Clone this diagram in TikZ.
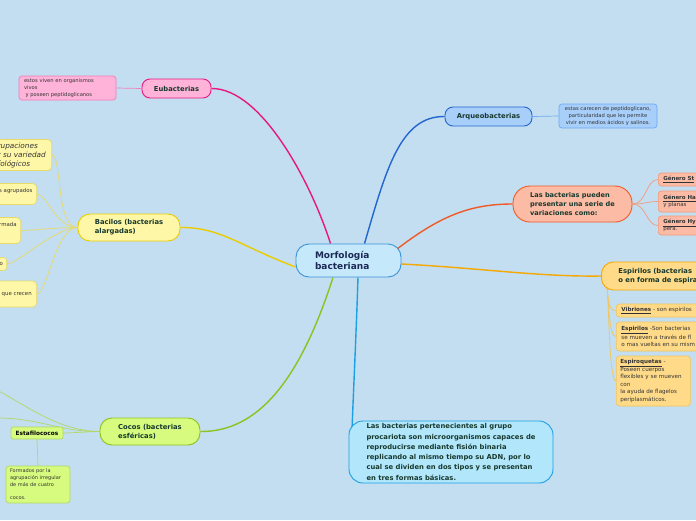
\documentclass[tikz,border=0pt]{standalone}
\usepackage{fontspec}
\setmainfont{DejaVu Sans}
\definecolor{bgc}{HTML}{C2DEF0}
\definecolor{txt}{HTML}{17392D}
\definecolor{navy}{HTML}{1B2A55}
\definecolor{notetxt}{HTML}{333333}
\definecolor{cfill}{HTML}{C6E8FB}
\definecolor{cdraw}{HTML}{3C92D6}
\definecolor{pinkfill}{HTML}{FFB3D9}
\definecolor{pinkdraw}{HTML}{E81880}
\definecolor{pinklight}{HTML}{F27FBE}
\definecolor{arqfill}{HTML}{A8CFFA}
\definecolor{arqdraw}{HTML}{2466D0}
\definecolor{arqlight}{HTML}{6FAAF2}
\definecolor{varfill}{HTML}{FBBBA5}
\definecolor{vardraw}{HTML}{F05A28}
\definecolor{varlight}{HTML}{F59A7A}
\definecolor{espfill}{HTML}{FFDA88}
\definecolor{espdraw}{HTML}{F5A800}
\definecolor{esplight}{HTML}{F2C65A}
\definecolor{bacfill}{HTML}{FFF7A8}
\definecolor{bacdraw}{HTML}{EBCC00}
\definecolor{baclight}{HTML}{E8DA6A}
\definecolor{cocfill}{HTML}{D6FB7E}
\definecolor{cocdraw}{HTML}{8DC21F}
\definecolor{coclight}{HTML}{B2D863}
\definecolor{descfill}{HTML}{B2E6FB}
\definecolor{descdraw}{HTML}{1BA0E2}
\pgfdeclarelayer{bglayer}
\pgfdeclarelayer{lines}
\pgfsetlayers{bglayer,lines,main}
\tikzset{
  bub/.style={draw, line width=0.9pt, rounded corners=10pt, inner sep=0pt, align=left, text=txt},
  sub/.style={draw, line width=0.7pt, rounded corners=3pt, inner sep=0pt, align=left, text=notetxt},
  mainf/.style={font=\fontsize{6.8}{8.8}\selectfont\bfseries},
  notef/.style={font=\fontsize{5.2}{6.8}\selectfont},
  link/.style={line width=1.4pt},
  sublink/.style={line width=0.7pt},
}
\begin{document}
\begin{tikzpicture}[x=1pt,y=-1pt]
\useasboundingbox (0,0) rectangle (696,520);
\begin{pgfonlayer}{bglayer}
\fill[bgc] (0,0) rectangle (696,520);
\end{pgfonlayer}

% central node
\node[bub, fill=cfill, draw=cdraw, rounded corners=13pt, minimum width=105pt, minimum height=33pt, text width=67pt, font=\fontsize{9}{11}\selectfont\bfseries, text=navy] (c) at (348.5,260.5) {Morfología\\bacteriana};

% Eubacterias
\node[bub, mainf, fill=pinkfill, draw=pinkdraw, rounded corners=8pt, minimum width=69pt, minimum height=19pt, align=center] (eub) at (176.5,88.5) {Eubacterias};
\node[sub, notef, fill=pinkfill, draw=pinklight, minimum width=97pt, minimum height=24pt, text width=87pt] (eubn) at (67.5,88) {estos viven en organismos\\vivos\\\hspace*{1.5pt}y poseen peptidoglicanos};

% Arqueobacterias
\node[bub, mainf, fill=arqfill, draw=arqdraw, rounded corners=8pt, minimum width=87pt, minimum height=19pt, align=center] (arq) at (488.5,116.5) {Arqueobacterias};
\node[sub, notef, fill=arqfill, draw=arqlight, minimum width=98pt, minimum height=24pt, align=center] (arqn) at (608,116) {estas carecen de peptidoglicano,\\ particularidad que les permite\\vivir en medios ácidos y salinos.};

% Variaciones
\node[bub, fill=varfill, draw=vardraw, rounded corners=17pt, minimum width=119pt, minimum height=36pt, font=\fontsize{6.6}{8.6}\selectfont\bfseries] (var) at (572.5,204) {Las bacterias pueden\\presentar una serie de\\variaciones como:};
\node[sub, fill=varfill, draw=varlight, anchor=west, minimum width=60pt, minimum height=13pt, text width=50pt, font=\fontsize{5.5}{6.8}\selectfont] (g1) at (658,179.5) {\underline{\textbf{Género St}}};
\node[sub, fill=varfill, draw=varlight, anchor=west, minimum width=60pt, minimum height=21pt, text width=50pt, font=\fontsize{5.5}{6.8}\selectfont] (g2) at (658,201.5) {\underline{\textbf{Género Ha}}\\y planas};
\node[sub, fill=varfill, draw=varlight, anchor=west, minimum width=60pt, minimum height=19pt, text width=50pt, font=\fontsize{5.5}{6.8}\selectfont] (g3) at (658,225.5) {\underline{\textbf{Género Hy}}\\pera.};

% Espirilos
\node[bub, fill=espfill, draw=espdraw, rounded corners=12pt, anchor=west, minimum width=120pt, minimum height=28pt, text width=86pt, font=\fontsize{6.8}{9}\selectfont\bfseries] (espB) at (601,276) {Espirilos (bacterias\\o en forma de espira};
\node[sub, fill=espfill, draw=esplight, anchor=west, minimum width=100pt, minimum height=13pt, text width=90pt, font=\fontsize{5.6}{7}\selectfont] (vib) at (616,310.5) {\underline{\textbf{Vibriones}} - son espirilos};
\node[sub, fill=espfill, draw=esplight, anchor=west, minimum width=100pt, minimum height=29pt, text width=90pt, font=\fontsize{5.6}{7}\selectfont] (espS) at (616,336.5) {\underline{\textbf{Espirilos}} -Son bacterias\\se mueven a través de fl\\o mas vueltas en su mism};
\node[sub, fill=espfill, draw=esplight, anchor=west, minimum width=74pt, minimum height=50pt, text width=66pt, font=\fontsize{5.6}{7.6}\selectfont] (espQ) at (616,381) {\underline{\textbf{Espiroquetas}} -\\Poseen cuerpos\\flexibles y se mueven\\con\\la ayuda de flagelos\\periplasmáticos.};

% Bacilos
\node[bub, mainf, fill=bacfill, draw=bacdraw, rounded corners=12pt, minimum width=102pt, minimum height=27pt] (bac) at (129,227.5) {Bacilos (bacterias\\alargadas)};
\node[sub, fill=bacfill, draw=baclight, anchor=east, minimum width=110pt, minimum height=31pt, rounded corners=4pt] (bA) at (52,155) {};
\node[sub, fill=bacfill, draw=baclight, anchor=east, minimum width=110pt, minimum height=21pt, rounded corners=4pt] (bB) at (37,194) {};
\node[sub, fill=bacfill, draw=baclight, anchor=east, minimum width=110pt, minimum height=26pt, rounded corners=4pt] (bC) at (21,230.5) {};
\node[sub, fill=bacfill, draw=baclight, anchor=east, minimum width=110pt, minimum height=13pt, rounded corners=3pt] (bD) at (7,264) {};
\node[sub, fill=bacfill, draw=baclight, anchor=east, minimum width=110pt, minimum height=26pt, rounded corners=4pt] (bE) at (37,294) {};
\node[anchor=north west, inner sep=0pt, align=left, text=notetxt, font=\fontsize{7.3}{9}\selectfont\itshape] (tA) at (-2.5,142.5) {rupaciones\\r su variedad\\fológicos};
\node[anchor=west, inner sep=0pt, text=notetxt, font=\fontsize{5.4}{6.8}\selectfont] (tB) at (-1,191) {s agrupados};
\node[anchor=west, inner sep=0pt, text=notetxt, font=\fontsize{5.4}{6.8}\selectfont] (tC) at (-1,224) {rmada};
\node[anchor=west, inner sep=0pt, text=notetxt, font=\fontsize{5.4}{6.8}\selectfont] (tD) at (-0.5,264) {o};
\node[anchor=west, inner sep=0pt, text=notetxt, font=\fontsize{5.4}{6.8}\selectfont] (tE) at (1.5,295) {que crecen};

% Cocos
\node[bub, mainf, fill=cocfill, draw=cocdraw, rounded corners=12pt, minimum width=100pt, minimum height=27pt] (coc) at (150,431.5) {Cocos (bacterias\\esféricas)};
\node[sub, fill=cocfill, draw=coclight, rounded corners=2pt, minimum width=52pt, minimum height=12pt, align=center, text=black, font=\fontsize{5.8}{7}\selectfont\bfseries] (est) at (37,433) {Estafilococos};
\node[sub, fill=cocfill, draw=coclight, minimum width=64pt, minimum height=37pt, text width=56pt, font=\fontsize{5}{6.7}\selectfont] (form) at (38,484.5) {Formados por la\\agrupación irregular\\de más de cuatro\\\mbox{}\\cocos.};
\coordinate (offA) at (-3,390);
\coordinate (offB) at (-3,418);

% Description
\node[bub, mainf, fill=descfill, draw=descdraw, rounded corners=14pt, minimum width=204pt, minimum height=62pt, font=\fontsize{6.8}{10.3}\selectfont\bfseries] (desc) at (451,452) {Las bacterias pertenecientes al grupo\\procariota son microorganismos capaces de\\reproducirse mediante fisión binaria\\replicando al mismo tiempo su ADN, por lo\\cual se dividen en dos tipos y se presentan\\en tres formas básicas.};

\coordinate (espfan) at (607,288);

\begin{pgfonlayer}{lines}
% main connectors
\draw[link, pinkdraw] ([xshift=-18pt]c.north) .. controls (312,185) and (262,88) .. (eub.east);
\draw[link, arqdraw] ([xshift=16pt]c.north) .. controls (386,170) and (400,116) .. (arq.west);
\draw[link, vardraw] ([xshift=-5pt,yshift=11pt]c.east) .. controls (440,216) and (470,204) .. (var.west);
\draw[link, espdraw] ([yshift=-3.5pt]c.east) .. controls (480,268) and (540,277) .. (espB.west);
\draw[link, bacdraw] ([yshift=-6.5pt]c.west) .. controls (240,246) and (220,227) .. (bac.east);
\draw[link, cocdraw] ([xshift=-15.5pt]c.south) .. controls (300,380) and (258,432) .. (coc.east);
\draw[link, descdraw] ([xshift=9.5pt]c.south) .. controls (356,340) and (353,400) .. (352,431);
% sub connectors
\draw[sublink, pinklight] (eub.west) -- (eubn.east);
\draw[sublink, arqlight] (arq.east) -- (arqn.west);
\foreach \g in {g1,g2,g3}
  \draw[sublink, varlight] (var.east) .. controls +(14,0) and +(-12,0) .. (\g.west);
\foreach \g in {vib,espS,espQ}
  \draw[sublink, esplight] (espfan) .. controls +(2,16) and +(-7,0) .. (\g.west);
\foreach \g in {bA,bB,bC,bD,bE}
  \draw[sublink, baclight] (bac.west) .. controls +(-22,0) and +(10,0) .. (\g.east);
\draw[sublink, coclight] (coc.west) .. controls (80,432) and (72,433) .. (est.east);
\draw[sublink, coclight] (coc.west) .. controls (60,431) and (30,408) .. (offA);
\draw[sublink, coclight] (coc.west) .. controls (60,432) and (40,418) .. (offB);
\draw[sublink, coclight] (est.south) -- (form.north);
\end{pgfonlayer}
\end{tikzpicture}
\end{document}
